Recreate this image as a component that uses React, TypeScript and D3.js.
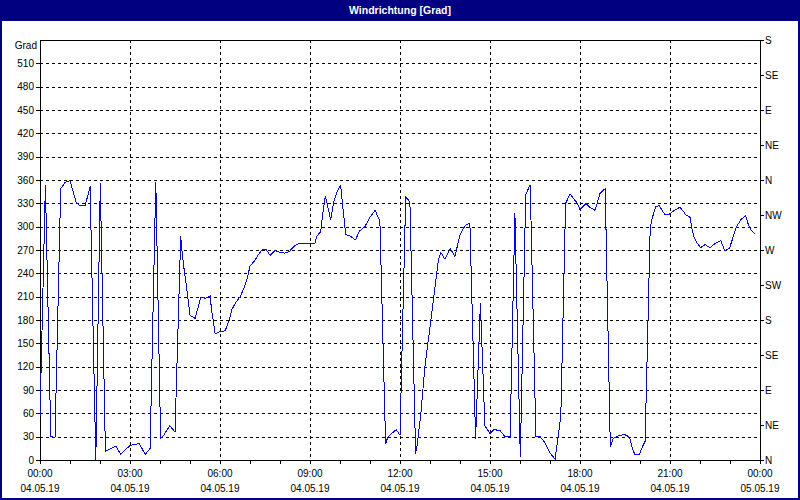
import React from "react";
import * as d3 from "d3";

const hours = [0, 0.18, 0.36, 0.5, 0.69, 0.84, 1.0, 1.2, 1.31, 1.5,
  1.58, 1.67, 1.86, 2.01, 2.18, 2.33, 2.53, 2.69, 2.89, 3.02,
  3.31, 3.51, 3.67, 3.86, 4.02, 4.09, 4.33, 4.5, 4.69, 4.72,
  4.79, 4.87, 4.91, 5.0, 5.17, 5.26, 5.36, 5.53, 5.67, 5.72,
  5.84, 5.98, 6.17, 6.31, 6.39, 6.5, 6.67, 6.8, 6.89, 7.0,
  7.17, 7.28, 7.39, 7.53, 7.67, 7.83, 8.0, 8.17, 8.31, 8.5,
  8.67, 9.17, 9.22, 9.36, 9.42, 9.51, 9.58, 9.69, 9.78, 9.89,
  10.02, 10.19, 10.33, 10.52, 10.64, 10.83, 11.0, 11.17, 11.33, 11.52,
  11.6, 11.72, 11.87, 12.0, 12.19, 12.33, 12.52, 12.58, 12.7, 12.83,
  12.96, 13.07, 13.17, 13.28, 13.36, 13.5, 13.67, 13.83, 14.0, 14.11,
  14.22, 14.33, 14.52, 14.68, 14.83, 15.0, 15.13, 15.33, 15.5, 15.67,
  15.83, 16.01, 16.19, 16.34, 16.53, 16.67, 16.8, 17.0, 17.17, 17.36,
  17.52, 17.67, 17.91, 18.0, 18.2, 18.33, 18.5, 18.67, 18.84, 19.01,
  19.11, 19.28, 19.47, 19.58, 19.67, 19.76, 19.83, 19.98, 20.08, 20.17,
  20.34, 20.39, 20.53, 20.64, 20.72, 20.84, 20.98, 21.11, 21.33, 21.44,
  21.53, 21.67, 21.72, 21.78, 21.87, 22.02, 22.17, 22.33, 22.53, 22.69,
  22.83, 22.98, 23.09, 23.22, 23.36, 23.52, 23.61, 23.69, 23.83];

const degrees = [55, 354, 30, 29, 349, 357, 359, 332, 327, 327,
  338, 352, 0, 356, 11, 14, 18, 7, 15, 19,
  21, 7, 15, 358, 28, 30, 44, 36, 288, 274,
  249, 227, 214, 186, 182, 195, 209, 208, 211, 193,
  162, 165, 166, 180, 193, 201, 210, 221, 231, 249,
  257, 264, 270, 271, 263, 269, 267, 266, 268, 276,
  279, 279, 287, 294, 315, 339, 328, 309, 330, 344,
  353, 290, 288, 283, 294, 300, 312, 321, 307, 21,
  30, 34, 39, 32, 338, 332, 8, 21, 62, 120,
  159, 193, 223, 257, 267, 258, 272, 262, 289, 298,
  303, 304, 27, 202, 44, 34, 39, 38, 30, 30,
  317, 4, 341, 354, 30, 30, 24, 9, 1, 56,
  330, 342, 330, 322, 330, 325, 321, 343, 349, 17,
  28, 31, 33, 31, 27, 13, 7, 7, 17, 24,
  298, 309, 326, 327, 322, 315, 316, 320, 325, 320,
  315, 312, 300, 289, 281, 273, 277, 273, 279, 282,
  269, 272, 285, 300, 309, 314, 303, 296, 291];

const yTicks = [0, 30, 60, 90, 120, 150, 180, 210, 240, 270, 300, 330, 360, 390, 420, 450, 480, 510];
const compassTicks = [0, 45, 90, 135, 180, 225, 270, 315, 360, 405, 450, 495, 540];
const compassLabels = ["N", "NE", "E", "SE", "S", "SW", "W", "NW", "N", "NE", "E", "SE", "S"];
const timeTicks = [0, 3, 6, 9, 12, 15, 18, 21, 24];
const timeLabels = ["00:00", "03:00", "06:00", "09:00", "12:00", "15:00", "18:00", "21:00", "00:00"];
const dateLabels = ["04.05.19", "04.05.19", "04.05.19", "04.05.19", "04.05.19", "04.05.19", "04.05.19", "04.05.19", "05.05.19"];
const title = "Windrichtung [Grad]";
const unit = "Grad";

const W = 800, H = 500;
const L = 40, R = 760, T = 40, B = 460;
const FONT = "'Liberation Sans', Arial, sans-serif";

export default function App() {
  const x = d3.scaleLinear().domain([0, 24]).range([L, R]);
  const y = d3.scaleLinear().domain([0, 540]).range([B, T]);
  const pts = d3.zip(hours, degrees) as [number, number][];
  const line = d3.line<[number, number]>().x(d => x(d[0])).y(d => y(d[1]));
  const minor = d3.range(0, 25, 1);

  return (
    <svg width={W} height={H} style={{ position: "absolute", left: 0, top: 0, background: "#fff" }}>
      <rect x={0} y={0} width={W} height={H} fill="#ffffff" />
      <rect x={0} y={0} width={W} height={20} fill="#000080" />
      <rect x={1} y={20} width={W - 2} height={H - 21} fill="none" stroke="#000080" strokeWidth={2} />
      <text x={W / 2} y={14} textAnchor="middle" fill="#fff" fontFamily={FONT} fontWeight="bold" fontSize={10.5}>{title}</text>

      <g shapeRendering="crispEdges">
        {yTicks.filter(t => t > 0).map(t => (
          <line key={"h" + t} x1={L} x2={R} y1={y(t) + 0.5} y2={y(t) + 0.5} stroke="#000" strokeDasharray="3,3" />
        ))}
        {timeTicks.filter(t => t > 0 && t < 24).map(t => (
          <line key={"v" + t} x1={x(t) + 0.5} x2={x(t) + 0.5} y1={T} y2={B} stroke="#000" strokeDasharray="3,3" />
        ))}
        <line x1={L} x2={R + 1} y1={T + 0.5} y2={T + 0.5} stroke="#000" />
        <line x1={L + 0.5} x2={L + 0.5} y1={T} y2={B + 1} stroke="#000" />
        <line x1={R + 0.5} x2={R + 0.5} y1={T} y2={B + 1} stroke="#000" />
        <line x1={L} x2={R + 1} y1={B + 0.5} y2={B + 0.5} stroke="#000" />
        {yTicks.map(t => (
          <line key={"yt" + t} x1={L - 4} x2={L} y1={y(t) + 0.5} y2={y(t) + 0.5} stroke="#000" />
        ))}
        {compassTicks.map(t => (
          <line key={"ct" + t} x1={R} x2={R + 4} y1={y(t) + 0.5} y2={y(t) + 0.5} stroke="#000" />
        ))}
        {minor.map(t => (
          <line key={"xt" + t} x1={x(t) + 0.5} x2={x(t) + 0.5} y1={B} y2={B + 4} stroke="#000" />
        ))}
      </g>

      <path d={line(pts) || ""} fill="none" stroke="#0000ff" strokeWidth={1} shapeRendering="crispEdges" />

      <g fontFamily={FONT} fontSize={10} fill="#000">
        <text x={37} y={y(540) + 8.5} textAnchor="end">{unit}</text>
        {yTicks.map(t => (
          <text key={"yl" + t} x={34} y={y(t) + 3.5} textAnchor="end">{t}</text>
        ))}
        {compassTicks.map((t, i) => (
          <text key={"cl" + t} x={R + 5} y={y(t) + 3.5} textAnchor="start">{compassLabels[i]}</text>
        ))}
        {timeTicks.map((t, i) => (
          <text key={"tl" + i} x={x(t)} y={477} textAnchor="middle">{timeLabels[i]}</text>
        ))}
        {timeTicks.map((t, i) => (
          <text key={"dl" + i} x={x(t)} y={492} textAnchor="middle">{dateLabels[i]}</text>
        ))}
      </g>
    </svg>
  );
}
